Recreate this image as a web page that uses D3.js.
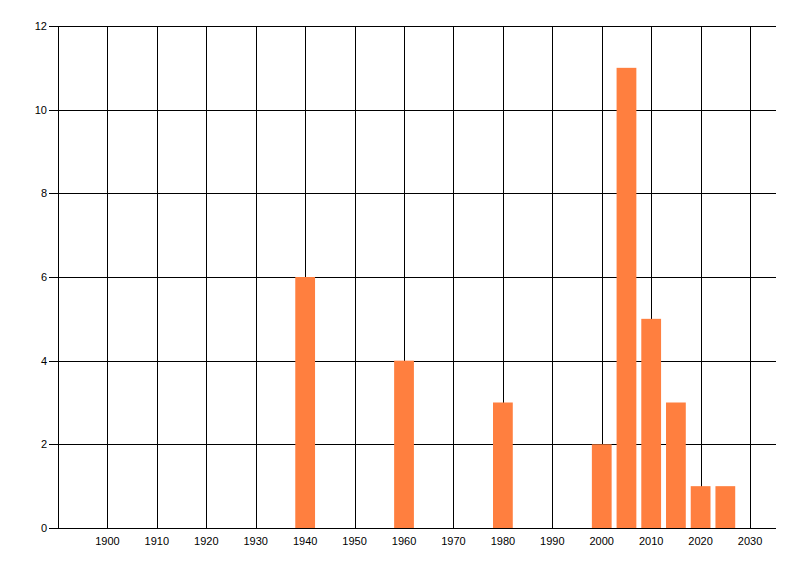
<!DOCTYPE html>
<html>
<head>
<style>
html, body {
    margin: 0;
    padding: 0;
    background: #fff;
    overflow: hidden;
}
svg text {
    font-family: "Liberation Sans", Arial, sans-serif;
    font-size: 11px;
    fill: #000;
}
</style>
</head>
<body>
<script src="https://d3js.org/d3.v7.min.js"></script>
<script>
const years = [1940, 1960, 1980, 2000, 2005, 2010, 2015, 2020, 2025];
const counts = [6, 4, 3, 2, 11, 5, 3, 1, 1];
const xTicks = [1900, 1910, 1920, 1930, 1940, 1950, 1960, 1970, 1980, 1990, 2000, 2010, 2020, 2030];
const yTicks = [0, 2, 4, 6, 8, 10, 12];
const barYears = 4;

const [width, height] = [800, 576];
const plotLeft = 58, plotRight = 776, plotTop = 26, plotBottom = 528;

const x = d3.scaleLinear().domain([1890, 2035.25]).range([plotLeft, plotRight]);
const y = d3.scaleLinear().domain([0, 12]).range([plotBottom, plotTop]);

const svg = d3.select("body").append("svg")
    .attr("width", width)
    .attr("height", height);

// vertical grid
svg.append("g")
    .attr("stroke", "#000")
    .selectAll("line")
    .data(xTicks)
    .join("line")
        .attr("x1", d => Math.round(x(d)) + 0.5)
        .attr("x2", d => Math.round(x(d)) + 0.5)
        .attr("y1", plotTop)
        .attr("y2", plotBottom);

// horizontal grid + y ticks
svg.append("g")
    .attr("stroke", "#000")
    .selectAll("line")
    .data(yTicks)
    .join("line")
        .attr("x1", plotLeft - 9)
        .attr("x2", plotRight)
        .attr("y1", d => Math.round(y(d)) + 0.5)
        .attr("y2", d => Math.round(y(d)) + 0.5);

// left axis line
svg.append("line")
    .attr("stroke", "#000")
    .attr("x1", plotLeft + 0.5).attr("x2", plotLeft + 0.5)
    .attr("y1", plotTop).attr("y2", plotBottom + 1);

// bars
svg.append("g")
    .attr("fill", "#ff7f3f")
    .selectAll("rect")
    .data(years)
    .join("rect")
        .attr("x", d => x(d - barYears / 2))
        .attr("width", x(barYears) - x(0))
        .attr("y", (d, i) => y(counts[i]))
        .attr("height", (d, i) => y(0) - y(counts[i]));

// y labels
svg.append("g")
    .selectAll("text")
    .data(yTicks)
    .join("text")
        .attr("x", plotLeft - 11)
        .attr("y", d => y(d) + 4)
        .attr("text-anchor", "end")
        .text(d => d);

// x labels
svg.append("g")
    .selectAll("text")
    .data(xTicks)
    .join("text")
        .attr("x", d => x(d))
        .attr("y", plotBottom + 17)
        .attr("text-anchor", "middle")
        .text(d => d);
</script>
</body>
</html>
